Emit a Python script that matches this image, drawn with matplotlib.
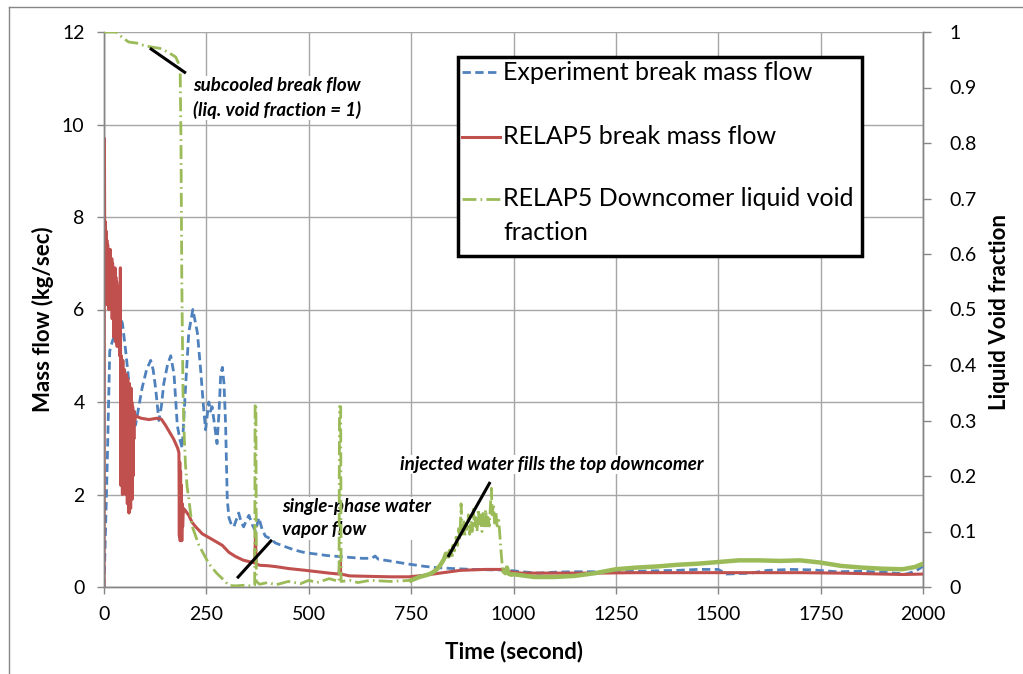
import matplotlib
matplotlib.use("Agg")
import matplotlib.pyplot as plt
from matplotlib.lines import Line2D
from matplotlib.patches import Rectangle
import numpy as np

plt.rcParams["font.family"] = ["Lato", "DejaVu Sans"]

W, H = 1023, 674

# ── data ─────────────────────────────────────────────────────────────────────
# experiment break mass flow (time s, kg/s)
EXP_FLOW = [
    (0, 0), (3, 1.0), (8, 2.7), (14, 5.1), (20, 5.3), (28, 5.5), (37, 5.9),
    (45, 5.7), (53, 5.1), (60, 4.5), (66, 3.9), (72, 3.6), (77, 3.5), (85, 3.9),
    (93, 4.3), (104, 4.7), (114, 4.9), (120, 4.7), (126, 4.3), (134, 3.6),
    (140, 3.9), (146, 4.4), (155, 4.8), (163, 5.0), (171, 4.6), (179, 3.5),
    (185, 3.2), (191, 3.0), (199, 4.3), (207, 5.5), (217, 6.0), (228, 5.5),
    (236, 4.7), (242, 4.0), (248, 3.4), (256, 4.0), (260, 3.8), (264, 3.9),
    (270, 3.5), (276, 3.1), (281, 3.8), (285, 4.6), (289, 4.75), (293, 4.4),
    (297, 3.5), (301, 1.9), (305, 1.5), (311, 1.35), (317, 1.3), (323, 1.45),
    (329, 1.6), (335, 1.4), (341, 1.3), (348, 1.45), (354, 1.55), (362, 1.35),
    (370, 1.2), (378, 1.5), (386, 1.25), (394, 1.1), (405, 1.05), (419, 0.95),
    (440, 0.88), (465, 0.8), (492, 0.74), (520, 0.71), (545, 0.68), (573, 0.66),
    (600, 0.64), (630, 0.62), (654, 0.62), (662, 0.67), (670, 0.6), (700, 0.56),
    (740, 0.5), (780, 0.45), (810, 0.42), (850, 0.4), (900, 0.38), (950, 0.37),
    (975, 0.37), (1000, 0.35), (1020, 0.33), (1060, 0.3), (1100, 0.32),
    (1150, 0.33), (1200, 0.33), (1250, 0.33), (1300, 0.34), (1350, 0.35),
    (1400, 0.36), (1450, 0.38), (1500, 0.38), (1520, 0.28), (1580, 0.3),
    (1620, 0.36), (1680, 0.38), (1730, 0.37), (1790, 0.33), (1850, 0.34),
    (1900, 0.32), (1960, 0.28), (1985, 0.36), (2000, 0.45),
]

# RELAP5 break mass flow (time s, kg/s)
RELAP_FLOW = [
    (0, 0), (1, 9.7), (2, 6.6), (3, 7.9), (4, 6.2), (5, 7.7), (6, 6.4), (7, 7.5),
    (8, 6.1), (9, 7.4), (10, 6.5), (11, 7.3), (12, 6.0), (13, 7.2), (14, 6.3),
    (15, 7.3), (16, 6.2), (17, 7.0), (18, 6.0), (19, 7.1), (20, 5.8), (21, 7.0),
    (22, 6.1), (23, 6.9), (24, 5.4), (25, 6.8), (26, 5.6), (27, 6.9), (28, 5.3),
    (29, 6.7), (30, 5.5), (31, 6.6), (32, 5.2), (33, 6.5), (34, 5.6), (35, 6.3),
    (36, 5.3), (37, 5.8), (38, 5.0), (39, 5.6), (40, 6.9), (41, 2.2), (42, 5.0),
    (43, 2.5), (44, 4.8), (45, 2.0), (46, 4.9), (47, 2.4), (48, 4.6), (49, 2.1),
    (50, 4.7), (51, 2.6), (52, 4.5), (53, 2.0), (54, 4.6), (55, 2.3), (56, 4.4),
    (57, 1.8), (58, 4.5), (59, 2.2), (60, 4.3), (61, 1.6), (62, 4.4), (63, 2.0),
    (64, 4.2), (65, 1.7), (66, 4.3), (67, 2.0), (68, 4.0), (69, 1.9), (70, 3.9),
    (71, 2.4), (72, 3.8), (73, 3.2), (74, 3.8), (75, 3.6), (77, 3.7), (90, 3.65),
    (110, 3.62), (130, 3.65), (140, 3.63), (150, 3.5), (160, 3.35), (170, 3.2),
    (180, 3.0), (183, 2.9), (184, 1.1), (185, 2.7), (186, 1.0), (187, 2.5),
    (188, 1.2), (189, 2.2), (190, 1.0), (191, 1.8), (192, 1.3), (194, 1.7),
    (199, 1.65), (207, 1.55), (215, 1.4), (224, 1.3), (240, 1.15), (260, 1.05),
    (289, 0.9), (305, 0.75), (321, 0.66), (340, 0.58), (354, 0.55), (368, 0.52),
    (370, 1.15), (371, 0.7), (372, 0.5), (380, 0.47), (400, 0.46), (420, 0.44),
    (450, 0.4), (492, 0.36), (520, 0.33), (550, 0.3), (574, 0.28), (576, 0.55),
    (577, 0.52), (578, 0.28), (600, 0.24), (650, 0.23), (700, 0.22), (744, 0.22),
    (780, 0.25), (820, 0.3), (870, 0.36), (930, 0.38), (975, 0.38), (990, 0.33),
    (1020, 0.3), (1100, 0.3), (1200, 0.3), (1300, 0.31), (1400, 0.31),
    (1500, 0.31), (1600, 0.31), (1700, 0.31), (1800, 0.3), (1900, 0.28),
    (1950, 0.27), (2000, 0.28),
]

# RELAP5 downcomer liquid void fraction (time s, fraction)
VOID_FRACTION = [
    (0, 1.0), (30, 1.0), (45, 0.99), (60, 0.982), (80, 0.98), (100, 0.975),
    (140, 0.97), (160, 0.962), (175, 0.955), (183, 0.942), (186, 0.93),
    (188, 0.8), (190, 0.55), (193, 0.35), (196, 0.27), (199, 0.22), (203, 0.18),
    (207, 0.16), (215, 0.11), (232, 0.075), (256, 0.042), (275, 0.025),
    (289, 0.015), (305, 0.003), (320, 0.002), (340, 0.003), (360, 0.002),
    (368, 0.003), (369, 0.33), (371, 0.33), (372, 0.01), (380, 0.005),
    (400, 0.008), (420, 0.004), (450, 0.01), (480, 0.006), (500, 0.012),
    (520, 0.008), (550, 0.015), (574, 0.01), (575, 0.325), (578, 0.325),
    (579, 0.01), (600, 0.012), (620, 0.008), (650, 0.012), (700, 0.01),
    (750, 0.012), (770, 0.018), (790, 0.022), (800, 0.025), (810, 0.03),
    (820, 0.038), (826, 0.045), (830, 0.05), (835, 0.06), (840, 0.055),
    (845, 0.065), (848, 0.058), (852, 0.075), (856, 0.065), (860, 0.09),
    (863, 0.075), (866, 0.105), (869, 0.085), (872, 0.15), (875, 0.095),
    (878, 0.12), (881, 0.09), (884, 0.115), (887, 0.1), (890, 0.13),
    (893, 0.095), (896, 0.12), (899, 0.1), (902, 0.14), (905, 0.105),
    (908, 0.125), (911, 0.1), (914, 0.14), (917, 0.11), (920, 0.13), (923, 0.1),
    (926, 0.135), (929, 0.11), (932, 0.14), (935, 0.105), (938, 0.125),
    (941, 0.11), (944, 0.15), (946, 0.178), (948, 0.13), (951, 0.15),
    (954, 0.115), (957, 0.135), (960, 0.11), (964, 0.12), (967, 0.09),
    (970, 0.06), (973, 0.035), (976, 0.028), (980, 0.025), (984, 0.035),
    (988, 0.024), (995, 0.022), (1000, 0.023), (1050, 0.018), (1100, 0.018),
    (1150, 0.02), (1200, 0.025), (1250, 0.032), (1300, 0.035), (1350, 0.037),
    (1400, 0.04), (1450, 0.042), (1500, 0.045), (1550, 0.048), (1600, 0.048),
    (1650, 0.047), (1700, 0.048), (1750, 0.044), (1800, 0.038), (1850, 0.035),
    (1900, 0.033), (1950, 0.032), (1980, 0.036), (2000, 0.042),
]

X_TICKS = list(range(0, 2001, 250))
Y_TICKS = list(range(0, 13, 2))
Y2_TICKS = [i / 10 for i in range(11)]
Y2_LABELS = ["0", "0.1", "0.2", "0.3", "0.4", "0.5", "0.6", "0.7", "0.8", "0.9", "1"]

LEGEND_LABELS = [
    "Experiment break mass flow",
    "RELAP5 break mass flow",
    "RELAP5 Downcomer liquid void",
    "fraction",
]

BLUE = "#4F81BD"
RED = "#C0504D"
GREEN = "#9BBB59"
GRID = "#A6A6A6"
AXIS = "#868686"


def fx(px):
    return px / W


def fy(py):
    return 1 - py / H


fig = plt.figure(figsize=(W / 100, H / 100), dpi=100)
fig.patch.set_facecolor("white")

# chart-area border (left and top visible)
fig.add_artist(Line2D([fx(9), fx(9)], [fy(7), 0], color=AXIS, lw=1))
fig.add_artist(Line2D([fx(9), 1], [fy(7), fy(7)], color=AXIS, lw=1))

ax = fig.add_axes([fx(104), fy(587), fx(923) - fx(104), fy(32) - fy(587)])
ax2 = ax.twinx()

t_exp, v_exp = np.array(EXP_FLOW).T
t_rel, v_rel = np.array(RELAP_FLOW).T
t_void, v_void = np.array(VOID_FRACTION).T

ax.plot(t_exp, v_exp, color=BLUE, lw=2.0, dashes=(3, 1.6), zorder=3)
ax.plot(t_rel, v_rel, color=RED, lw=2.2, zorder=4)

ax2.plot(t_void, v_void, color=GREEN, lw=2.0, dashes=(5, 1.5, 0.6, 1.5), zorder=3)
# noisy stretches read as a solid band in the reference
late = (t_void >= 740) & (t_void <= 850) | (t_void >= 975)
v_late = np.where(late, v_void, np.nan)
ax2.plot(t_void, v_late, color=GREEN, lw=3.2, zorder=3)

ax.set_xlim(0, 2000)
ax.set_ylim(0, 12)
ax2.set_ylim(0, 1)
ax.set_xticks(X_TICKS)
ax.set_yticks(Y_TICKS)
ax2.set_yticks(Y2_TICKS)
ax2.set_yticklabels(Y2_LABELS)

ax.grid(True, color=GRID, lw=1)
ax.set_axisbelow(True)

for a in (ax, ax2):
    a.spines["top"].set_visible(False)
    for s in ("left", "right", "bottom"):
        a.spines[s].set_color(AXIS)
        a.spines[s].set_linewidth(1)

ax.tick_params(axis="x", direction="out", length=5, width=1, color=AXIS,
               pad=9, labelsize=14)
ax.tick_params(axis="y", direction="out", length=5, width=1, color=AXIS,
               pad=9, labelsize=14)
ax2.tick_params(axis="y", direction="out", length=6, width=1, color=AXIS,
                pad=13, labelsize=14)

ax.set_xlabel("Time (second)", fontsize=16, fontweight="bold")
ax.xaxis.set_label_coords(0.5006, -0.0973)
ax.set_ylabel("Mass flow (kg/sec)", fontsize=16, fontweight="bold")
ax.yaxis.set_label_coords(-0.061, 0.483)
ax2.set_ylabel("Liquid Void fraction", fontsize=16, fontweight="bold",
               rotation=90)
ax2.yaxis.set_label_coords(1.081, 0.495)

# annotations
note = dict(fontsize=13.5, fontweight="bold", fontstyle="italic",
            color="black", ha="left", va="top", linespacing=1.45, zorder=10,
            bbox=dict(facecolor="white", edgecolor="none", pad=1))
ax.text(217, 11.03, "subcooled break flow\n(liq. void fraction = 1)", **note)
ax.text(435, 1.92, "single-phase water\nvapor flow", **note)
ax.text(723, 2.83, "injected water fills the top downcomer", **note)

for (x0, y0), (x1, y1) in [((112, 11.65), (200, 11.11)),
                           ((325, 0.19), (410, 1.02)),
                           ((840, 0.65), (943, 2.27))]:
    ax2.plot([x0, x1], [y0 / 12, y1 / 12], color="black", lw=2.2, zorder=10,
             solid_capstyle="butt")

# legend box drawn by hand to match the wrapped layout
fig.add_artist(Rectangle((fx(458), fy(256)), fx(862) - fx(458), fy(57) - fy(256),
                         facecolor="white", edgecolor="black", lw=2.5, zorder=20))
fig.add_artist(Line2D([fx(462), fx(498)], [fy(72), fy(72)], color=BLUE, lw=2.0,
                      dashes=(3, 1.6), zorder=21))
fig.add_artist(Line2D([fx(462), fx(500)], [fy(137), fy(137)], color=RED, lw=2.2,
                      zorder=21))
fig.add_artist(Line2D([fx(462), fx(502)], [fy(199), fy(199)], color=GREEN, lw=2.0,
                      dashes=(5, 1.5, 0.6, 1.5), zorder=21))
for label, ypx in zip(LEGEND_LABELS, [72, 137, 198, 233]):
    fig.text(fx(503), fy(ypx), label, fontsize=18, va="center", ha="left",
             zorder=22)

fig.savefig("out.png", dpi=100, facecolor="white")
